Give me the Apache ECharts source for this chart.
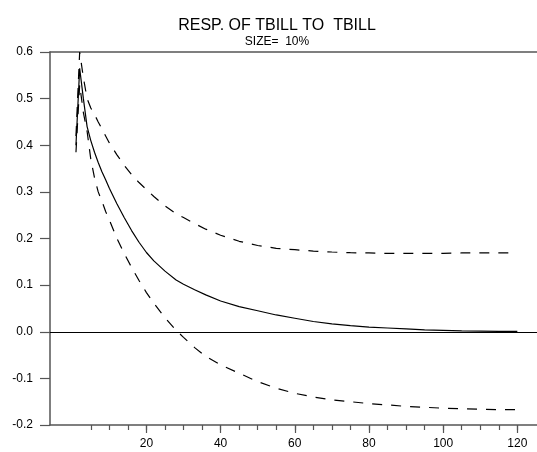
<!DOCTYPE html>
<html>
<head>
<meta charset="utf-8">
<script src="https://cdn.jsdelivr.net/npm/echarts@6/dist/echarts.min.js"></script>
<style>
html,body{margin:0;padding:0;background:#fff;}
#chart{width:537px;height:452px;}
</style>
</head>
<body>
<div id="chart"></div>
<script>
var titleText = 'RESP. OF TBILL TO  TBILL';
var subtitleText = 'SIZE=  10%';
var steps = [1,2,3,4,5,6,7,8,9,10,12,14,16,18,20,22,25,28,30,33,36,40,45,50,55,60,65,70,75,80,85,90,95,100,105,110,115,120];
var response = [0.400,0.565,0.500,0.440,0.410,0.385,0.363,0.343,0.326,0.308,0.275,0.245,0.217,0.192,0.170,0.152,0.130,0.111,0.102,0.090,0.079,0.066,0.054,0.045,0.036,0.029,0.022,0.017,0.013,0.010,0.008,0.006,0.004,0.003,0.002,0.0015,0.001,0.001];
var upperBand = [0.420,0.600,0.545,0.500,0.480,0.466,0.450,0.435,0.420,0.405,0.380,0.357,0.337,0.320,0.305,0.290,0.270,0.253,0.245,0.232,0.220,0.207,0.194,0.185,0.179,0.176,0.173,0.171,0.1695,0.169,0.168,0.168,0.168,0.168,0.169,0.169,0.169,0.169];
var lowerBand = [0.385,0.530,0.470,0.430,0.370,0.330,0.300,0.280,0.258,0.240,0.201,0.168,0.138,0.110,0.084,0.061,0.030,0.003,-0.012,-0.034,-0.053,-0.071,-0.089,-0.107,-0.121,-0.132,-0.140,-0.146,-0.150,-0.154,-0.157,-0.160,-0.162,-0.164,-0.165,-0.166,-0.167,-0.167];
var minorTicks = [5,10,15,20,25,30,35,40,45,50,55,60,65,70,75,80,85,90,95,100,105,110,115,120];
var majorTicks = [20,40,60,80,100,120];

function pairs(vals){ return steps.map(function(s,i){ return [s, vals[i]]; }); }

var FONT = 'Liberation Sans, Arial, sans-serif';
var axisGray = '#555';
var chart = echarts.init(document.getElementById('chart'));
chart.setOption({
  animation: false,
  backgroundColor: '#fff',
  title: [
    {text: titleText, left: 272, top: 13, textAlign: 'center',
     textStyle: {fontFamily: FONT, fontSize: 16, fontWeight: 'normal', color: '#000'}},
    {text: subtitleText, left: 272, top: 31, textAlign: 'center',
     textStyle: {fontFamily: FONT, fontSize: 12, fontWeight: 'normal', color: '#000'}}
  ],
  grid: {left: 50, right: 0, top: 52, bottom: 27, containLabel: false},
  xAxis: [
    {type: 'value', position: 'bottom', min: -6, max: 125.3,
     axisLine: {show: true, onZero: false, lineStyle: {color: axisGray, width: 1.5}},
     axisTick: {show: true, length: 5, customValues: minorTicks, lineStyle: {color: axisGray, width: 1.2}},
     axisLabel: {show: false},
     splitLine: {show: false}},
    {type: 'value', position: 'bottom', min: -6, max: 125.3,
     axisLine: {show: false, onZero: false},
     axisTick: {show: true, length: 8, customValues: majorTicks, lineStyle: {color: axisGray, width: 1.2}},
     axisLabel: {show: true, customValues: majorTicks, margin: 13, fontFamily: FONT, fontSize: 12, color: '#000'},
     splitLine: {show: false}},
    {type: 'value', position: 'top', min: -6, max: 125.3,
     axisLine: {show: true, onZero: false, lineStyle: {color: axisGray, width: 1.5}},
     axisTick: {show: false}, axisLabel: {show: false}, splitLine: {show: false}}
  ],
  yAxis: {
    type: 'value', min: -0.2, max: 0.6, interval: 0.1,
    axisLine: {show: true, onZero: false, lineStyle: {color: axisGray, width: 1.5}},
    axisTick: {show: true, length: 10, lineStyle: {color: axisGray, width: 1.2}},
    axisLabel: {margin: 17, fontFamily: FONT, fontSize: 12, color: '#000',
      formatter: function(v){ return v.toFixed(1); }},
    splitLine: {show: false}
  },
  series: [
    {type: 'line', name: 'response', xAxisIndex: 0, data: pairs(response), showSymbol: false,
     lineStyle: {color: '#000', width: 1.2, type: 'solid'},
     markLine: {silent: true, symbol: 'none', label: {show: false},
       lineStyle: {color: '#000', width: 1, type: 'solid'}, data: [{yAxis: 0}]}},
    {type: 'line', name: 'upper', xAxisIndex: 0, data: pairs(upperBand), showSymbol: false,
     lineStyle: {color: '#000', width: 1.2, type: [10, 9]}},
    {type: 'line', name: 'lower', xAxisIndex: 0, data: pairs(lowerBand), showSymbol: false,
     lineStyle: {color: '#000', width: 1.2, type: [10, 9]}}
  ]
});
</script>
</body>
</html>
